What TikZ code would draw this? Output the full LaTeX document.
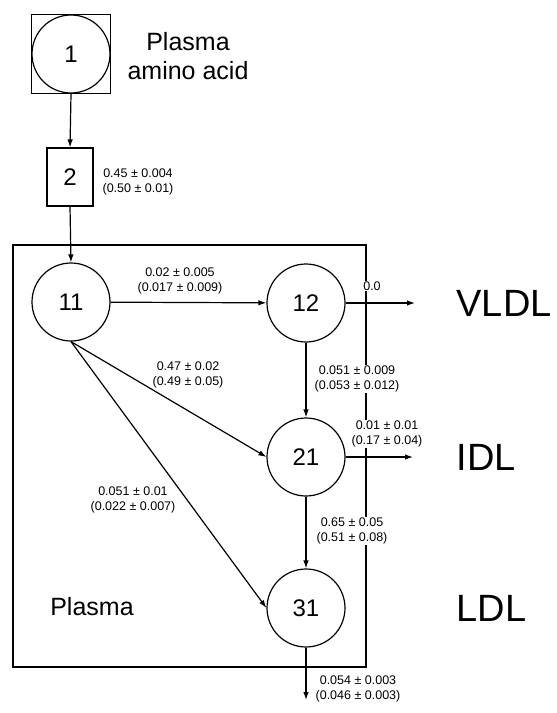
\documentclass[tikz,border=0pt]{standalone}
\usepackage{fontspec}
\setmainfont{Liberation Sans}
\usepackage{tikz}
\usetikzlibrary{arrows.meta,positioning}

\begin{document}
\begin{tikzpicture}[x=1pt, y=-1pt, line width=1.2pt,
    pool/.style={circle, draw, minimum size=78pt, inner sep=0pt, font=\fontsize{24}{26}\selectfont},
    rate/.style={align=center, inner sep=1pt, font=\fontsize{12.5}{15}\selectfont},
    flow/.style={-{Latex[length=8pt, width=5.5pt]}},
    tag/.style={anchor=west, inner sep=0pt, font=\fontsize{38}{40}\selectfont}]
  \useasboundingbox (0,0) rectangle (557,713);

  % plasma compartment
  \draw (13,245) rectangle (366,667);
  \node[font=\fontsize{25}{28}\selectfont] (plasma) at (92,607) {Plasma};

  % precursor pool and delay
  \node[draw, minimum size=79pt, inner sep=0pt] (aa) at (71,54) {};
  \node[pool] (n1) at (aa) {1};
  \node[align=center, font=\fontsize{25}{29}\selectfont] (aalab) at (188,56) {Plasma\\amino acid};
  \node[draw, minimum width=46pt, minimum height=58pt, inner sep=0pt,
        font=\fontsize{24}{26}\selectfont] (n2) at (70,177) {2};

  % apoB pools
  \node[pool] (n11) at (71,302) {11};
  \node[pool] (n12) at (306,303) {12};
  \node[pool] (n21) at (306,457) {21};
  \node[pool] (n31) at (306,608) {31};

  % free ends
  \coordinate (o12) at (415,303);
  \coordinate (o21) at (413,457);
  \coordinate (o31) at (306,700);

  % fluxes
  \draw[flow] (aa.south) -- (n2.north);
  \draw[flow] (n2.south) -- (n11.north);
  \draw[flow] (n11) -- (n12);
  \draw[flow] (n11.south) -- (n21.west);
  \draw[flow] (n11.south) -- (n31.west);
  \draw[flow] (n12) -- (n21);
  \draw[flow] (n21) -- (n31);
  \draw[flow] (n12.east) -- (o12);
  \draw[flow] (n21.east) -- (o21);
  \draw[flow] (n31.south) -- (o31);

  % rate constants
  \node[rate] (r2) at (138,182) {0.45 ± 0.004\\(0.50 ± 0.01)};
  \node[rate] (r1112) at (180,281) {0.02 ± 0.005\\(0.017 ± 0.009)};
  \node[rate] (r1121) at (188,375) {0.47 ± 0.02\\(0.49 ± 0.05)};
  \node[rate] (r1131) at (133,500) {0.051 ± 0.01\\(0.022 ± 0.007)};
  \node[rate, fill=white] (r12) at (372,286) {0.0};
  \node[rate, fill=white] (r1221) at (357,379) {0.051 ± 0.009\\(0.053 ± 0.012)};
  \node[rate, fill=white] (r21) at (387,434) {0.01 ± 0.01\\(0.17 ± 0.04)};
  \node[rate, fill=white] (r2131) at (352,531) {0.65 ± 0.05\\(0.51 ± 0.08)};
  \node[rate] (r31) at (358,689) {0.054 ± 0.003\\(0.046 ± 0.003)};

  % lipoprotein classes
  \node[tag] (vldl) at (456,303) {VLDL};
  \node[tag] (idl) at (456,457) {IDL};
  \node[tag] (ldl) at (456,608) {LDL};
\end{tikzpicture}
\end{document}
